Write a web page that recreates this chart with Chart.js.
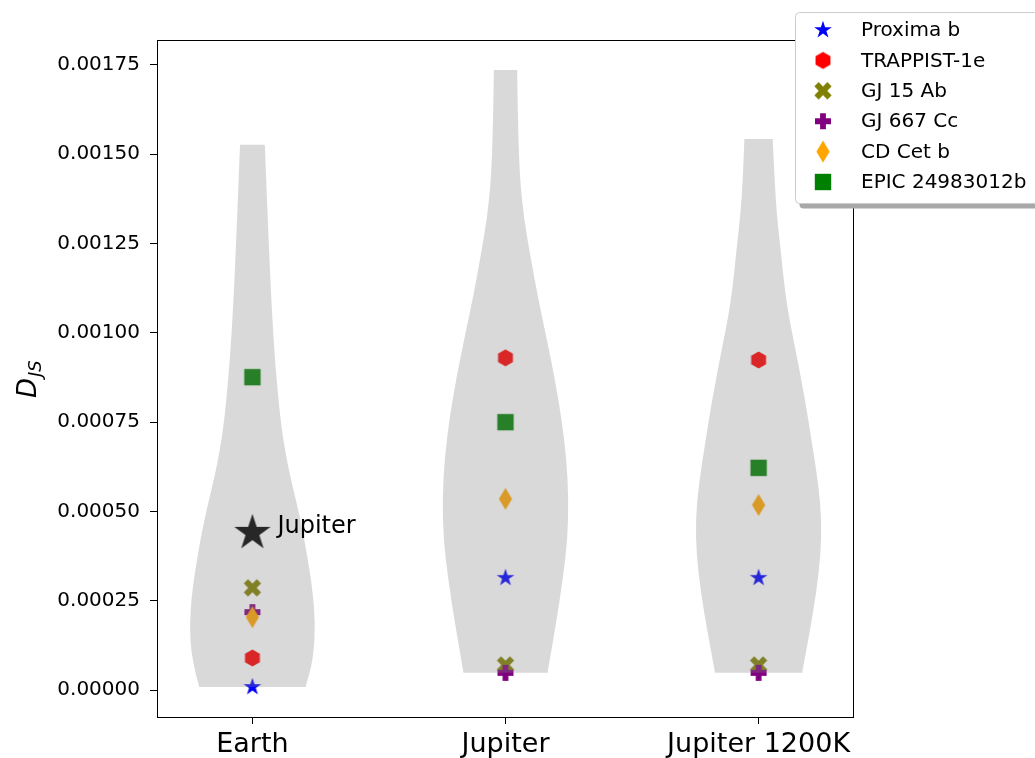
<!DOCTYPE html>
<html>
<head>
<meta charset="utf-8">
<title>D_JS violins</title>
<script src="https://cdn.jsdelivr.net/npm/chart.js@4"></script>
<style>
  body { margin:0; background:#fff; }
  canvas { display:block; }
</style>
</head>
<body>
<canvas id="myChart" width="1035" height="758"></canvas>
<script>

// ******* DATA ******************
let categories = ['Earth', 'Jupiter', 'Jupiter 1200K'];
let planetNames = ['Proxima b', 'TRAPPIST-1e', 'GJ 15 Ab', 'GJ 667 Cc', 'CD Cet b', 'EPIC 24983012b'];

let proximaValues  = [0.0000084, 0.000314, 0.000314];
let trappistValues = [0.0000896, 0.000930, 0.000924];
let gj15Values     = [0.000286, 0.000070, 0.000070];
let gj667Values    = [0.000218, 0.000048, 0.000048];
let cdcetValues    = [0.000204, 0.000535, 0.000518];
let epicValues     = [0.000876, 0.000750, 0.000622];

// the reference point on the Earth column
let jupiterRefValue = [0.00044];
let jupiterRefLabel = 'Jupiter';

let yTicks = [0, 0.00025, 0.0005, 0.00075, 0.001, 0.00125, 0.0015, 0.00175];

// violin outlines : D_JS value and half width (x units), top to bottom
let earthViolinY = [0.001527, 0.00140, 0.001261, 0.00110, 0.000955, 0.00085, 0.00075, 0.00067, 0.000596, 0.00052, 0.000442, 0.00036, 0.000288, 0.000188, 0.000084, 0.0000084];
let earthViolinW = [0.049, 0.056, 0.064, 0.074, 0.086, 0.098, 0.112, 0.129, 0.150, 0.176, 0.200, 0.220, 0.236, 0.249, 0.240, 0.210];

let jupiterViolinY = [0.001736, 0.001596, 0.001439, 0.001324, 0.001212, 0.00110, 0.000986, 0.000874, 0.000762, 0.000647, 0.000535, 0.00042, 0.000308, 0.000196, 0.000048];
let jupiterViolinW = [0.046, 0.049, 0.056, 0.072, 0.099, 0.128, 0.162, 0.194, 0.221, 0.241, 0.249, 0.245, 0.226, 0.202, 0.166];

let hotViolinY = [0.001543, 0.001372, 0.001232, 0.001081, 0.000952, 0.000812, 0.000678, 0.000577, 0.000476, 0.000375, 0.000274, 0.000174, 0.000048];
let hotViolinW = [0.056, 0.066, 0.087, 0.110, 0.146, 0.184, 0.214, 0.236, 0.249, 0.245, 0.228, 0.205, 0.172];

let violinY = [earthViolinY, jupiterViolinY, hotViolinY];
let violinW = [earthViolinW, jupiterViolinW, hotViolinW];

let seriesValues = [proximaValues, trappistValues, gj15Values, gj667Values, cdcetValues, epicValues];
let seriesColors = ['#0000ff', '#ff0000', '#808000', '#800080', '#ffa500', '#008000'];
let seriesShapes = ['star', 'hexagon', 'xfill', 'plusfill', 'thindiamond', 'square'];


//////////////////////////////////////////////////////////////////////////////////////////////////////////////////
// makes the marker images (matplotlib style filled markers)
//////////////////////////////////////////////////////////////////////////////////////////////////////////////////
function makeMarker(shape, color, scale = 1){
  let size = Math.ceil(24 * scale);
  let c = document.createElement('canvas');
  c.width = size;
  c.height = size;
  let ctx = c.getContext('2d');
  let cx = size / 2, cy = size / 2;
  ctx.fillStyle = color;
  ctx.beginPath();

  if(shape === 'star'){
    let ro = 9.3 * scale, ri = ro * 0.381;
    for(let k = 0; k < 10; k++){
      let r = (k % 2 === 0) ? ro : ri;
      let a = -Math.PI / 2 + k * Math.PI / 5;
      ctx.lineTo(cx + r * Math.cos(a), cy + r * Math.sin(a));
    }
  }
  else if(shape === 'hexagon'){
    let r = 8.6 * scale;
    for(let k = 0; k < 6; k++){
      let a = -Math.PI / 2 + k * Math.PI / 3;
      ctx.lineTo(cx + r * Math.cos(a), cy + r * Math.sin(a));
    }
  }
  else if(shape === 'plusfill' || shape === 'xfill'){
    let R = (shape === 'plusfill' ? 8 : 9.2) * scale;
    let t = (shape === 'plusfill' ? 2.9 : 3.0) * scale;
    let pts = [[-t,-R],[t,-R],[t,-t],[R,-t],[R,t],[t,t],[t,R],[-t,R],[-t,t],[-R,t],[-R,-t],[-t,-t]];
    let rot = shape === 'xfill' ? Math.PI / 4 : 0;
    for(let p of pts){
      let x = p[0] * Math.cos(rot) - p[1] * Math.sin(rot);
      let y = p[0] * Math.sin(rot) + p[1] * Math.cos(rot);
      ctx.lineTo(cx + x, cy + y);
    }
  }
  else if(shape === 'thindiamond'){
    let w = 6.6 * scale, h = 11 * scale;
    ctx.moveTo(cx, cy - h);
    ctx.lineTo(cx + w, cy);
    ctx.lineTo(cx, cy + h);
    ctx.lineTo(cx - w, cy);
  }
  else if(shape === 'square'){
    let s = 8.2 * scale;
    ctx.rect(cx - s, cy - s, 2 * s, 2 * s);
  }
  ctx.closePath();
  ctx.fill();
  return c;
}

let markerImgs = [];
for(let i = 0; i < seriesShapes.length; i++){
  markerImgs.push(makeMarker(seriesShapes[i], seriesColors[i]));
}
let bigStar = makeMarker('star', '#000000', 2.05);


//////////////////////////////////////////////////////////////////////////////////////////////////////////////////
// datasets
//////////////////////////////////////////////////////////////////////////////////////////////////////////////////
let datasets = [];
for(let i = 0; i < planetNames.length; i++){
  let pts = [];
  for(let j = 0; j < categories.length; j++){
    pts.push({x: j, y: seriesValues[i][j]});
  }
  datasets.push({
    label: planetNames[i],
    data: pts,
    pointStyle: markerImgs[i],
    order: 10 - i          // later series on top like matplotlib
  });
}
datasets.push({
  label: jupiterRefLabel,
  data: [{x: 0, y: jupiterRefValue[0]}],
  pointStyle: bigStar,
  order: 1
});


//////////////////////////////////////////////////////////////////////////////////////////////////////////////////
// violins drawn on top of the points (alpha gray)
//////////////////////////////////////////////////////////////////////////////////////////////////////////////////
const violinPlugin = {
  id: 'violins',
  afterDatasetsDraw(chart){
    let ctx = chart.ctx;
    let xs = chart.scales.x, ys = chart.scales.y;
    ctx.save();
    for(let j = 0; j < categories.length; j++){
      let vy = violinY[j], vw = violinW[j];
      let right = [], left = [];
      for(let k = 0; k < vy.length; k++){
        let py = ys.getPixelForValue(vy[k]);
        right.push([xs.getPixelForValue(j + vw[k]), py]);
        left.push([xs.getPixelForValue(j - vw[k]), py]);
      }
      left.reverse();
      ctx.beginPath();
      smoothPath(ctx, right, true);
      smoothPath(ctx, left, false);
      ctx.closePath();
      ctx.fillStyle = 'rgba(128,128,128,0.3)';
      ctx.fill();
    }
    ctx.restore();
  }
};

function smoothPath(ctx, pts, first){
  if(first){ ctx.moveTo(pts[0][0], pts[0][1]); }
  else { ctx.lineTo(pts[0][0], pts[0][1]); }
  for(let k = 1; k < pts.length - 1; k++){
    let mx = (pts[k][0] + pts[k+1][0]) / 2;
    let my = (pts[k][1] + pts[k+1][1]) / 2;
    ctx.quadraticCurveTo(pts[k][0], pts[k][1], mx, my);
  }
  let last = pts[pts.length - 1];
  ctx.lineTo(last[0], last[1]);
}


//////////////////////////////////////////////////////////////////////////////////////////////////////////////////
// frame, y label, annotation and legend
//////////////////////////////////////////////////////////////////////////////////////////////////////////////////
const extrasPlugin = {
  id: 'extras',
  afterDraw(chart){
    let ctx = chart.ctx;
    let a = chart.chartArea;
    let xs = chart.scales.x, ys = chart.scales.y;
    ctx.save();

    // axes box
    ctx.strokeStyle = '#000';
    ctx.lineWidth = 1;
    ctx.strokeRect(a.left + 0.5, a.top + 0.5, a.right - a.left - 1, a.bottom - a.top);

    // annotation next to the big star
    ctx.fillStyle = '#000';
    ctx.font = '24px "DejaVu Sans"';
    ctx.textBaseline = 'middle';
    ctx.textAlign = 'left';
    ctx.fillText(jupiterRefLabel, xs.getPixelForValue(0) + 25, ys.getPixelForValue(jupiterRefValue[0]) - 6);

    // y label  D_JS (mathtext italic)
    ctx.save();
    ctx.translate(36, 398);
    ctx.rotate(-Math.PI / 2);
    ctx.textBaseline = 'alphabetic';
    ctx.font = 'italic 26px "DejaVu Sans"';
    ctx.fillText('D', 0, 0);
    let dw = ctx.measureText('D').width;
    ctx.font = 'italic 18px "DejaVu Sans"';
    ctx.fillText('JS', dw + 1, 5);
    ctx.restore();

    // legend box with shadow
    let lx = 795.5, ly = 12.5, lw = 260, lh = 191;
    roundRect(ctx, lx + 4, ly + 5, lw, lh, 4);
    ctx.fillStyle = '#a8a8a8';
    ctx.fill();
    roundRect(ctx, lx, ly, lw, lh, 4);
    ctx.fillStyle = '#ffffff';
    ctx.fill();
    ctx.strokeStyle = '#cccccc';
    ctx.stroke();

    ctx.font = '20px "DejaVu Sans"';
    ctx.textBaseline = 'middle';
    ctx.fillStyle = '#000';
    for(let i = 0; i < planetNames.length; i++){
      let ry = 30 + i * 30.4;
      let img = markerImgs[i];
      ctx.drawImage(img, 823 - img.width / 2, ry - img.height / 2);
      ctx.fillText(planetNames[i], 861, ry + 1);
    }
    ctx.restore();
  }
};

function roundRect(ctx, x, y, w, h, r){
  ctx.beginPath();
  ctx.moveTo(x + r, y);
  ctx.lineTo(x + w - r, y);
  ctx.arcTo(x + w, y, x + w, y + r, r);
  ctx.lineTo(x + w, y + h - r);
  ctx.arcTo(x + w, y + h, x + w - r, y + h, r);
  ctx.lineTo(x + r, y + h);
  ctx.arcTo(x, y + h, x, y + h - r, r);
  ctx.lineTo(x, y + r);
  ctx.arcTo(x, y, x + r, y, r);
  ctx.closePath();
}


//////////////////////////////////////////////////////////////////////////////////////////////////////////////////
// the chart
//////////////////////////////////////////////////////////////////////////////////////////////////////////////////
let canvasChart = document.getElementById('myChart');

const config = {
  type: 'scatter',
  data: { datasets: datasets },
  plugins: [violinPlugin, extrasPlugin],
  options: {
    responsive: false,
    animation: false,
    events: [],
    layout: { padding: { left: 0, top: 40, right: 181, bottom: 0 } },
    plugins: {
      legend: { display: false },
      tooltip: { enabled: false }
    },
    elements: { point: { radius: 8, borderWidth: 0 } },
    scales: {
      x: {
        type: 'linear',
        min: -0.377,
        max: 2.377,
        afterBuildTicks: (scale) => { scale.ticks = categories.map((c, i) => ({value: i})); },
        afterFit: (scale) => { scale.height = 41; },
        ticks: {
          color: '#000',
          font: { family: 'DejaVu Sans', size: 27 },
          padding: 5,
          maxRotation: 0,
          callback: (value) => categories[value]
        },
        grid: { drawOnChartArea: false, drawTicks: true, tickLength: 7, tickColor: '#000' },
        border: { display: false }
      },
      y: {
        type: 'linear',
        min: -0.0000756,
        max: 0.00182,
        afterBuildTicks: (scale) => { scale.ticks = yTicks.map(v => ({value: v})); },
        afterFit: (scale) => { scale.width = 157; },
        ticks: {
          color: '#000',
          font: { family: 'DejaVu Sans', size: 20 },
          padding: 10,
          callback: (value) => value.toFixed(5)
        },
        grid: { drawOnChartArea: false, drawTicks: true, tickLength: 7, tickColor: '#000' },
        border: { display: false }
      }
    }
  }
};

const myChart = new Chart(canvasChart, config);

</script>
</body>
</html>
